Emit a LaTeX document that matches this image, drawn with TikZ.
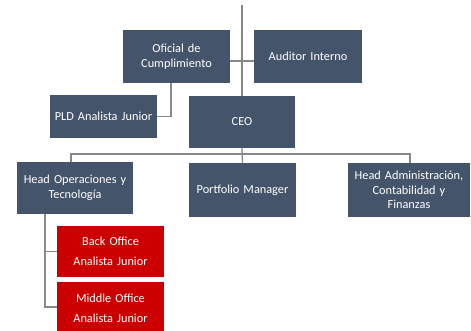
\documentclass[tikz,border=0pt]{standalone}
\usepackage{fontspec}
\setmainfont{Carlito}
\usepackage{tikz}
\definecolor{slate}{HTML}{44546A}
\definecolor{redbox}{HTML}{CC0000}
\definecolor{linegray}{HTML}{888888}
\tikzstyle{box} = [fill=slate, text=white, text width=104pt, align=center, font=\fontsize{12.3}{14.5}\selectfont, inner sep=0pt, minimum height=52pt]
\tikzstyle{redbx} = [box, fill=redbox]
\tikzstyle{link} = [draw=linegray, line width=1.3pt]

\begin{document}
\begin{tikzpicture}[x=1pt, y=-1pt]
  \useasboundingbox (0,0) rectangle (471,330);
  \node (ofi) at (176.5,56.5) [box, minimum width=107pt, minimum height=53pt] {Oficial de\\ Cumplimiento};
  \node (aud) at (308,56.5) [box, minimum width=108pt, minimum height=53pt] {Auditor Interno};
  \node (pld) at (103.5,116.5) [box, minimum width=107pt, minimum height=43pt] {PLD Analista Junior};
  \node (ceo) at (242,122) [box, minimum width=106pt] {CEO};
  \node (hop) at (75,188) [box, minimum width=116pt, text width=114pt] {Head Operaciones y\\ Tecnología};
  \node (pm) at (242.5,190) [box, minimum width=107pt, minimum height=54pt] {Portfolio Manager};
  \node (hadm) at (409,190) [box, minimum width=122pt, minimum height=54pt, text width=120pt] {Head Administración,\\ Contabilidad y\\ Finanzas};
  \node (bo) at (110.5,251.5) [redbx, minimum width=107pt, minimum height=51pt] {Back Office\\[5.5pt] Analista Junior};
  \node (mo) at (110.5,308) [redbx, minimum width=107pt] {Middle Office\\[5.5pt] Analista Junior};
  \coordinate (top) at (242,5);
  \coordinate (bus) at (242,154);
  \draw [link] (top) -- (ceo.north);
  \draw [link] (ofi.east |- 0,61) -- (aud.west |- 0,61);
  \draw [link] ([xshift=-5.5pt]ofi.south) |- (pld.east);
  \draw [link] (ceo.south) -- (pm.north);
  \draw [link] ([xshift=-4pt]hop.north) |- (bus) -| ([xshift=1pt]hadm.north);
  \draw [link] ([xshift=-30pt]hop.south) |- (bo.west);
  \draw [link] ([xshift=-30pt]hop.south) |- ([yshift=1pt]mo.west);
\end{tikzpicture}
\end{document}
